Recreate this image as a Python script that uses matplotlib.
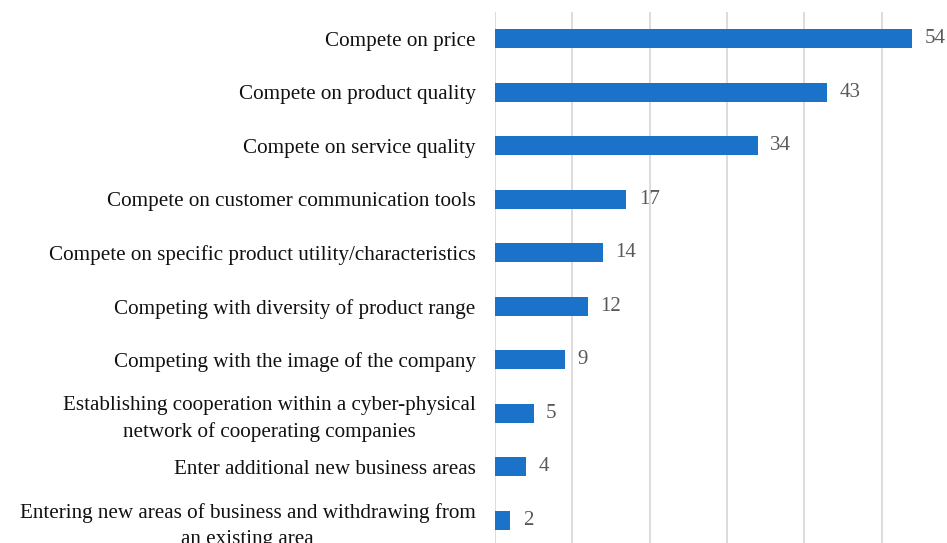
import matplotlib.pyplot as plt
import numpy as np

categories = [
    "Compete on price",
    "Compete on product quality",
    "Compete on service quality",
    "Compete on customer communication tools",
    "Compete on specific product utility/characteristics",
    "Competing with diversity of product range",
    "Competing with the image of the company",
    "Establishing cooperation within a cyber-physical\nnetwork of cooperating companies",
    "Enter additional new business areas",
    "Entering new areas of business and withdrawing from\nan existing area",
]
values = [54, 43, 34, 17, 14, 12, 9, 5, 4, 2]

plt.rcParams['font.family'] = ['Liberation Serif', 'DejaVu Serif']

fig = plt.figure(figsize=(9.47, 5.43), dpi=100)
ax = fig.add_axes([495 / 947, -4 / 543, 463.8 / 947, 535 / 543])

y = np.arange(len(categories))
ax.barh(y, values, height=0.35, color='#1a73c8', zorder=3)

for yi, v in zip(y, values):
    ax.text(v + 1.6, yi, str(v), va='center', ha='left',
            fontsize=15, color='#595959')

ax.set_xlim(0, 60)
ax.set_ylim(len(categories) - 0.5, -0.5)
ax.set_yticks(y)
ax.set_yticklabels(categories, fontsize=15.2, color='#111111',
                   multialignment='center', linespacing=1.45)
ax.set_xticks(np.arange(0, 61, 10))
ax.tick_params(axis='x', length=0, labelbottom=False)
ax.tick_params(axis='y', length=0, pad=14)
ax.grid(axis='x', color='#d9d9d9', linewidth=1.3, zorder=0)
for s in ax.spines.values():
    s.set_visible(False)

fig.savefig('out.png', dpi=100)
